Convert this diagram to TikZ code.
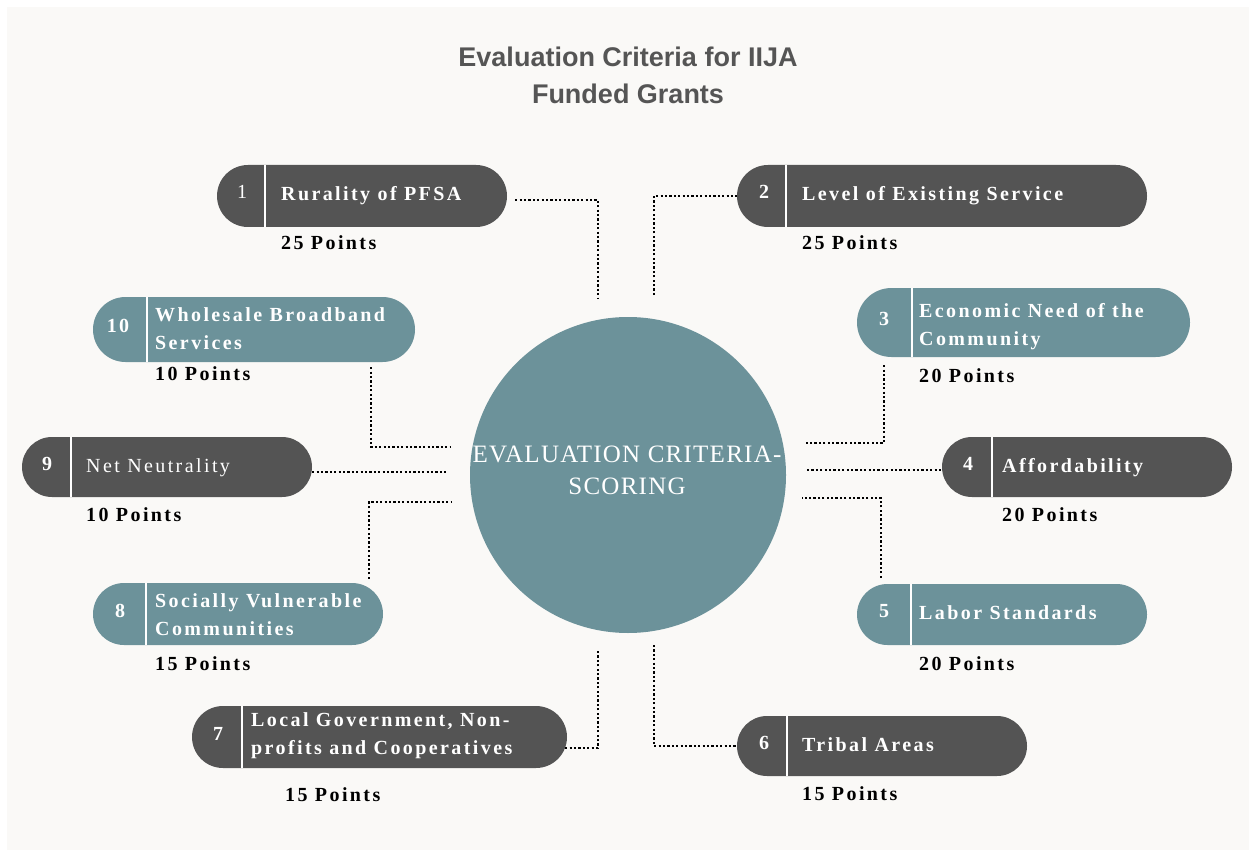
\documentclass[tikz,border=0pt]{standalone}
\usepackage{fontspec}
\setmainfont{Liberation Serif}
\newfontfamily\titlefont{Liberation Sans}
\newfontfamily\spfont[LetterSpace=12]{Liberation Serif}
\newfontfamily\hubfont[LetterSpace=5]{Liberation Serif}
\usetikzlibrary{shapes.misc,calc}
\definecolor{pilldark}{HTML}{545454}
\definecolor{pillteal}{HTML}{6C929A}
\definecolor{bgpanel}{HTML}{FAF9F7}
\definecolor{titlegray}{HTML}{555555}
\tikzset{
  pill/.style={rounded rectangle, inner sep=0pt, draw=none},
  pilldk/.style={pill, fill=pilldark},
  pilltl/.style={pill, fill=pillteal},
  divider/.style={white, line width=2.5pt},
  numlbl/.style={text=white, font=\spfont\fontsize{20}{24}\selectfont\bfseries, anchor=base, inner sep=0pt},
  pilltxt/.style={text=white, font=\spfont\fontsize{20}{28}\selectfont\bfseries, anchor=base west, inner sep=0pt},
  pilltxtii/.style={text=white, font=\spfont\fontsize{20}{28}\selectfont\bfseries, anchor=west, align=left, inner sep=0pt},
  pts/.style={text=black, font=\spfont\fontsize{20}{24}\selectfont\bfseries, anchor=base west, inner sep=0pt},
  conn/.style={line width=2.4pt, dash pattern=on 2.2pt off 2.2pt, black},
}
\begin{document}
\begin{tikzpicture}[x=1pt,y=-1pt]
\useasboundingbox (0,0) rectangle (1249,850);
\fill[white] (0,0) rectangle (1249,850);
\fill[bgpanel] (7,7) rectangle (1249,850);

% title
\node[text=titlegray, font=\titlefont\bfseries\fontsize{27}{37}\selectfont, align=center, inner sep=0pt] (title) at (628,75) {Evaluation Criteria for IIJA\\Funded Grants};

% hub
\node[circle, fill=pillteal, minimum size=316pt, inner sep=0pt] (hub) at (628,475) {};
\node[text=white, font=\hubfont\fontsize{25}{32}\selectfont, align=center, inner sep=0pt] (hubtext) at (627,470) {EVALUATION CRITERIA-\\SCORING};

% pills
\node[pilldk, minimum width=290pt, minimum height=62pt] (p1) at (362,196) {};
\node[pilldk, minimum width=410pt, minimum height=62pt] (p2) at (942,196) {};
\node[pilltl, minimum width=333pt, minimum height=69pt] (p3) at (1023.5,322.5) {};
\node[pilldk, minimum width=290pt, minimum height=60pt] (p4) at (1087,467) {};
\node[pilltl, minimum width=290pt, minimum height=61pt] (p5) at (1002,614.5) {};
\node[pilldk, minimum width=290pt, minimum height=60pt] (p6) at (882,746) {};
\node[pilldk, minimum width=375pt, minimum height=62pt] (p7) at (379.5,737) {};
\node[pilltl, minimum width=290pt, minimum height=62pt] (p8) at (238,614) {};
\node[pilldk, minimum width=290pt, minimum height=60pt] (p9) at (167,467) {};
\node[pilltl, minimum width=322pt, minimum height=65pt] (p10) at (254,329.5) {};

% dividers
\draw[divider] (265,165) -- (265,227);
\draw[divider] (786,165) -- (786,227);
\draw[divider] (912,288) -- (912,357);
\draw[divider] (992,437) -- (992,497);
\draw[divider] (911,584) -- (911,645);
\draw[divider] (787,716) -- (787,776);
\draw[divider] (242,706) -- (242,768);
\draw[divider] (146,583) -- (146,645);
\draw[divider] (71,437) -- (71,497);
\draw[divider] (147,297) -- (147,362);

% numbers
\node[numlbl] (n1) at (242,199) {\mdseries 1};
\node[numlbl] (n2) at (764,199) {2};
\node[numlbl] (n3) at (884,325.5) {3};
\node[numlbl] (n4) at (968,470) {4};
\node[numlbl] (n5) at (884,617.5) {5};
\node[numlbl] (n6) at (764,749) {6};
\node[numlbl] (n7) at (218,740) {7};
\node[numlbl] (n8) at (120,617) {8};
\node[numlbl] (n9) at (47,470) {9};
\node[numlbl] (n10) at (118,332.5) {10};

% pill texts
\node[pilltxt] (t1) at (281,201) {Rurality of PFSA};
\node[pilltxt] (t2) at (802,201) {Level of Existing Service};
\node[pilltxtii] (t3) at (919,327) {Economic Need of the\\Community};
\node[pilltxt] (t4) at (1002,472) {Affordability};
\node[pilltxt] (t5) at (919,619.5) {Labor Standards};
\node[pilltxt] (t6) at (802,751) {Tribal Areas};
\node[pilltxtii] (t7) at (251,736) {Local Government, Non-\\profits and Cooperatives};
\node[pilltxtii] (t8) at (155,615) {Socially Vulnerable\\Communities};
\node[pilltxt] (t9) at (86,472) {\mdseries Net Neutrality};
\node[pilltxtii] (t10) at (155,329) {Wholesale Broadband\\Services};

% points
\node[pts] (pt1) at (281,250) {25 Points};
\node[pts] (pt2) at (802,250) {25 Points};
\node[pts] (pt3) at (919,382) {20 Points};
\node[pts] (pt4) at (1002,521) {20 Points};
\node[pts] (pt5) at (919,670) {20 Points};
\node[pts] (pt6) at (802,800) {15 Points};
\node[pts] (pt7) at (285,801) {15 Points};
\node[pts] (pt8) at (155,670) {15 Points};
\node[pts] (pt9) at (86,521) {10 Points};
\node[pts] (pt10) at (155,380) {10 Points};

% connectors
\coordinate (e1) at (598,299);
\draw[conn] ($(p1.east)+(8,4)$) -| (e1);
\coordinate (s2) at (654,295);
\draw[conn] (s2) |- (p2.west);
\coordinate (e10) at (451,447);
\draw[conn] ($(p10.south)+(117,5)$) |- (e10);
\coordinate (e9) at (446,472);
\draw[conn] (p9.east |- e9) -- (e9);
\coordinate (e8) at (451,502);
\draw[conn] ($(p8.north)+(131,-4)$) |- (e8);
\coordinate (e3) at (804,443);
\draw[conn] ($(p3.south)+(-139.5,8)$) |- (e3);
\coordinate (e4) at (807,470);
\draw[conn] (e4) -- (p4.west |- e4);
\coordinate (e5) at (802,498);
\draw[conn] ($(p5.north)+(-121,-6)$) |- (e5);
\coordinate (e7) at (598,649);
\draw[conn] ($(p7.east)+(-2,11)$) -| (e7);
\coordinate (s6) at (654,645);
\draw[conn] (s6) |- (p6.west);
\end{tikzpicture}
\end{document}
